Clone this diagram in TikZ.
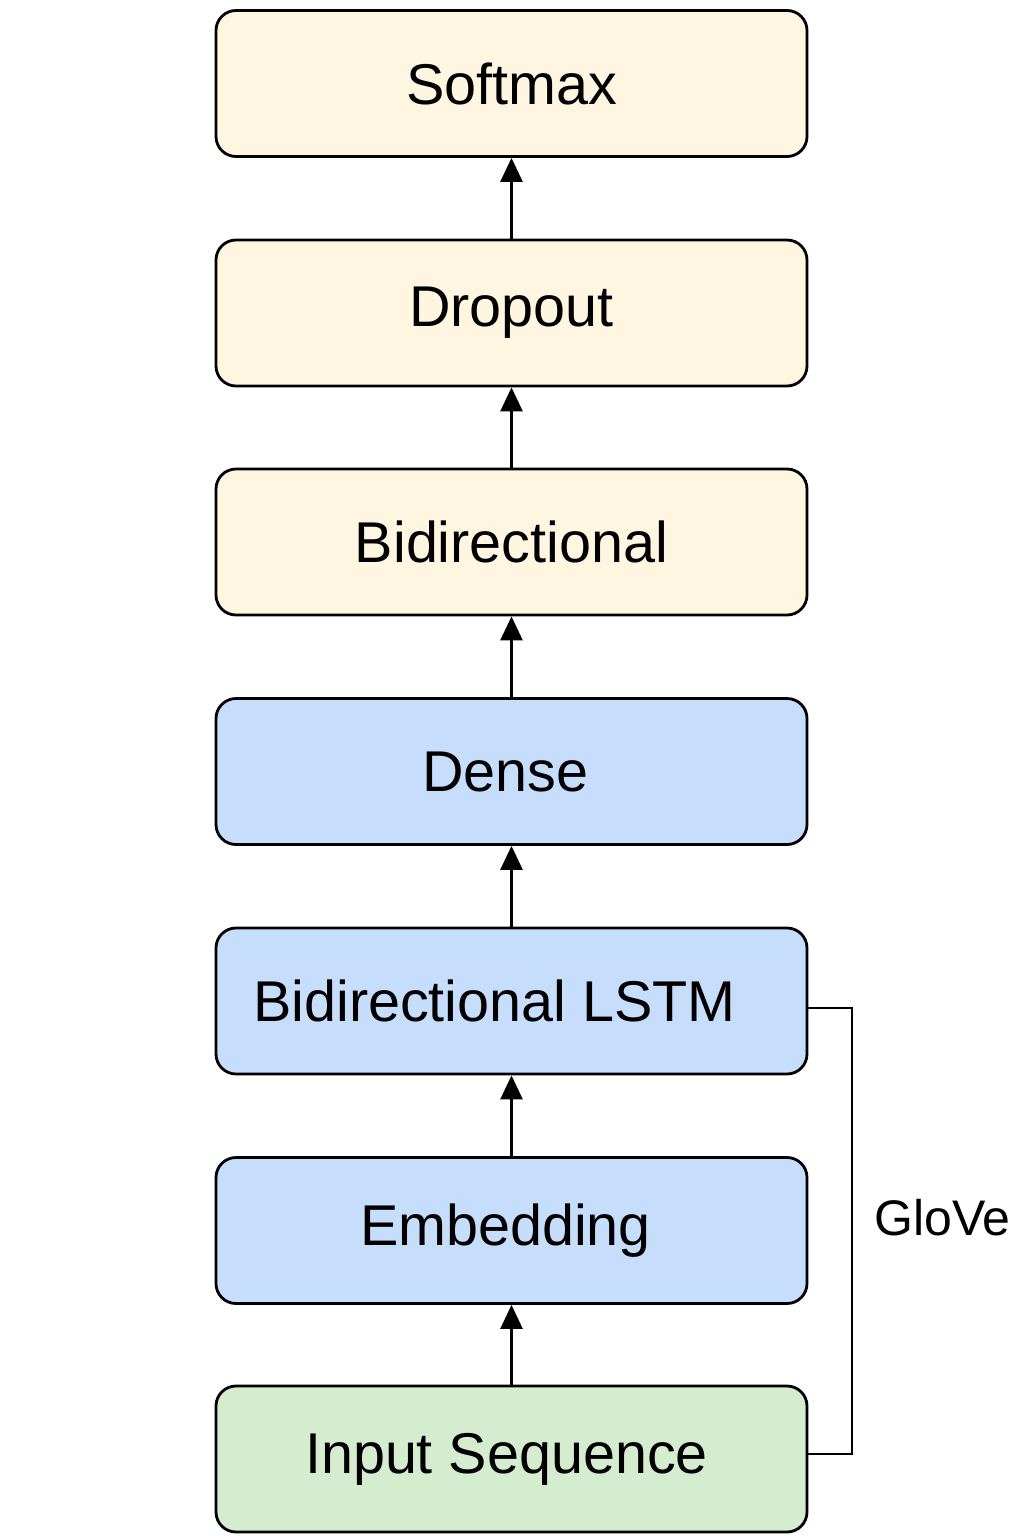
\documentclass[tikz,border=0pt]{standalone}
\usepackage{fontspec}
\setmainfont{Liberation Sans}
\usetikzlibrary{arrows.meta}
\definecolor{yel}{HTML}{FFF6E2}
\definecolor{blu}{HTML}{C6DDFC}
\definecolor{grn}{HTML}{D5ECCF}
\tikzset{
  layer/.style={draw=black, line width=2.8pt, rounded corners=20pt, minimum width=591pt, minimum height=146pt, inner sep=0pt, font=\fontsize{57.5}{66}\selectfont},
  conn/.style={line width=2.6pt, -{Triangle[length=24pt,width=22pt]}},
  link/.style={line width=2.8pt}
}
\begin{document}
\begin{tikzpicture}[x=1pt,y=-1pt]
\useasboundingbox (0,0) rectangle (1024,1536);
\node[layer, fill=yel] (soft) at (511.5,83.5) {Softmax};
\node[layer, fill=yel] (drop) at (511.5,313) {Dropout};
\node[layer, fill=yel] (bidi) at (511.5,542) {Bidirectional};
\node[layer, fill=blu] (dense) at (511.5,771.5) {\hspace*{-12pt}Dense};
\node[layer, fill=blu] (lstm) at (511.5,1001) {\hspace*{-34pt}Bidirectional LSTM};
\node[layer, fill=blu] (emb) at (511.5,1230.5) {\hspace*{-12pt}Embedding};
\node[layer, fill=grn] (inp) at (511.5,1459) {\hspace*{-10pt}Input Sequence};
\draw[conn] (drop.north) -- (soft.south);
\draw[conn] (bidi.north) -- (drop.south);
\draw[conn] (dense.north) -- (bidi.south);
\draw[conn] (lstm.north) -- (dense.south);
\draw[conn] (emb.north) -- (lstm.south);
\draw[conn] (inp.north) -- (emb.south);
\coordinate (c1) at (852,1454);
\coordinate (c2) at (852,1008);
\draw[link] (inp.east |- c1) -- (c1) -- (c2) -- (lstm.east |- c2);
\node[font=\fontsize{50}{56}\selectfont, anchor=west, inner sep=0pt] (glove) at (874,1218) {GloVe};
\end{tikzpicture}
\end{document}
